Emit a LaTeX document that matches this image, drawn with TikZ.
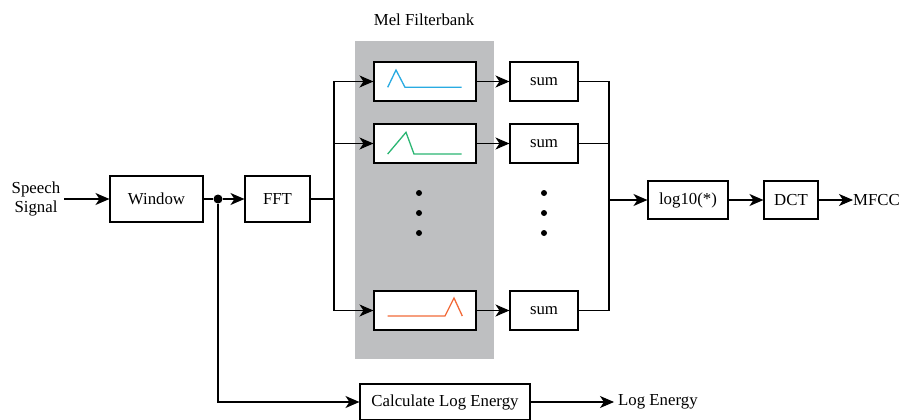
\documentclass[tikz,border=0pt]{standalone}
\usepackage{fontspec}
\setmainfont{Liberation Serif}
\usetikzlibrary{arrows.meta}
\definecolor{melgray}{HTML}{BEBFC1}
\definecolor{melcyan}{HTML}{29ABE2}
\definecolor{melgreen}{HTML}{2BB673}
\definecolor{melorange}{HTML}{F26B3A}
\tikzset{
  blk/.style={draw, line width=1.1pt, fill=white, inner sep=0pt, minimum height=39pt},
  arr/.style={-{Stealth[length=14pt,width=12pt,inset=4pt]}},
  wire/.style={line width=1.1pt},
  lbl/.style={inner sep=0pt, align=center},
}
\begin{document}
\begin{tikzpicture}[x=1pt,y=-1pt,font=\fontsize{16.8}{19.5}\selectfont]
\useasboundingbox (0,0) rectangle (900,420);
% filterbank background
\fill[melgray] (355,41) rectangle (494,359);
\node[lbl] (melname) at (424,20) {Mel Filterbank};

% main chain
\node[lbl] (speech) at (36,199) {Speech\\Signal};
\node[blk, minimum width=93pt, minimum height=46pt] (window) at (156.5,199) {Window};
\node[blk, minimum width=65pt, minimum height=46pt] (fft) at (277.5,199) {FFT};
\coordinate (split) at (334,199);
\coordinate (merge) at (609,200);

% filters and sums
\node[blk, minimum width=102pt] (f1) at (425,81.5) {};
\node[blk, minimum width=102pt] (f2) at (425,143.5) {};
\node[blk, minimum width=102pt] (f3) at (425,310.5) {};
\node[blk, minimum width=68pt] (s1) at (544,81.5) {sum};
\node[blk, minimum width=68pt] (s2) at (544,143.5) {sum};
\node[blk, minimum width=68pt] (s3) at (544,310.5) {sum};

\node[blk, minimum width=80pt, minimum height=38pt] (logt) at (688,200) {log10(*)};
\node[blk, minimum width=54pt, minimum height=38pt] (dct) at (791,200) {DCT};
\node[lbl, anchor=west] (mfcc) at (853,200) {MFCC};

\node[blk, minimum width=170pt, minimum height=36pt] (calc) at (445,402) {Calculate Log Energy};
\node[lbl, anchor=west] (loge) at (618,402) {Log Energy};

% filter shapes
\draw[melcyan, line width=1.3pt] (387.7,87.3) -- (396,70) -- (405,87.3) -- (461.7,87.3);
\draw[melgreen, line width=1.3pt] (387.7,154) -- (406,132.3) -- (414,154) -- (461.7,154);
\draw[melorange, line width=1.3pt] (387.7,316) -- (445,316) -- (454,298) -- (462.3,316);

% dots
\foreach \y in {193,213,233} {
  \fill (419,\y) circle (3pt);
  \fill (544,\y) circle (3pt);
}

% connectors
\draw[wire, arr] ([xshift=4pt]speech.east |- window.west) -- (window.west);
\node[circle, fill, inner sep=0pt, minimum size=9pt] (jn) at (218,199) {};
\draw[wire] (window.east) -- (jn);
\draw[wire, arr] (jn) -- (fft.west);
\draw[wire] (fft.east) -- (split);
\draw[wire] (split |- f1.west) -- (split |- f3.west);
\foreach \i in {1,2,3} {
  \draw[wire, arr] (split |- f\i.west) -- (f\i.west);
  \draw[wire, arr] (f\i.east) -- (s\i.west);
  \draw[wire] (s\i.east) -- (merge |- s\i.east);
}
\draw[wire] (merge |- s1.east) -- (merge |- s3.east);
\draw[wire, arr] (merge) -- (logt.west);
\draw[wire, arr] (logt.east) -- (dct.west);
\draw[wire, arr] (dct.east) -- (mfcc.west);
\draw[wire, arr] (jn) |- (calc.west);
\draw[wire, arr] (calc.east) -- ([xshift=-4pt]loge.west);
\end{tikzpicture}
\end{document}
